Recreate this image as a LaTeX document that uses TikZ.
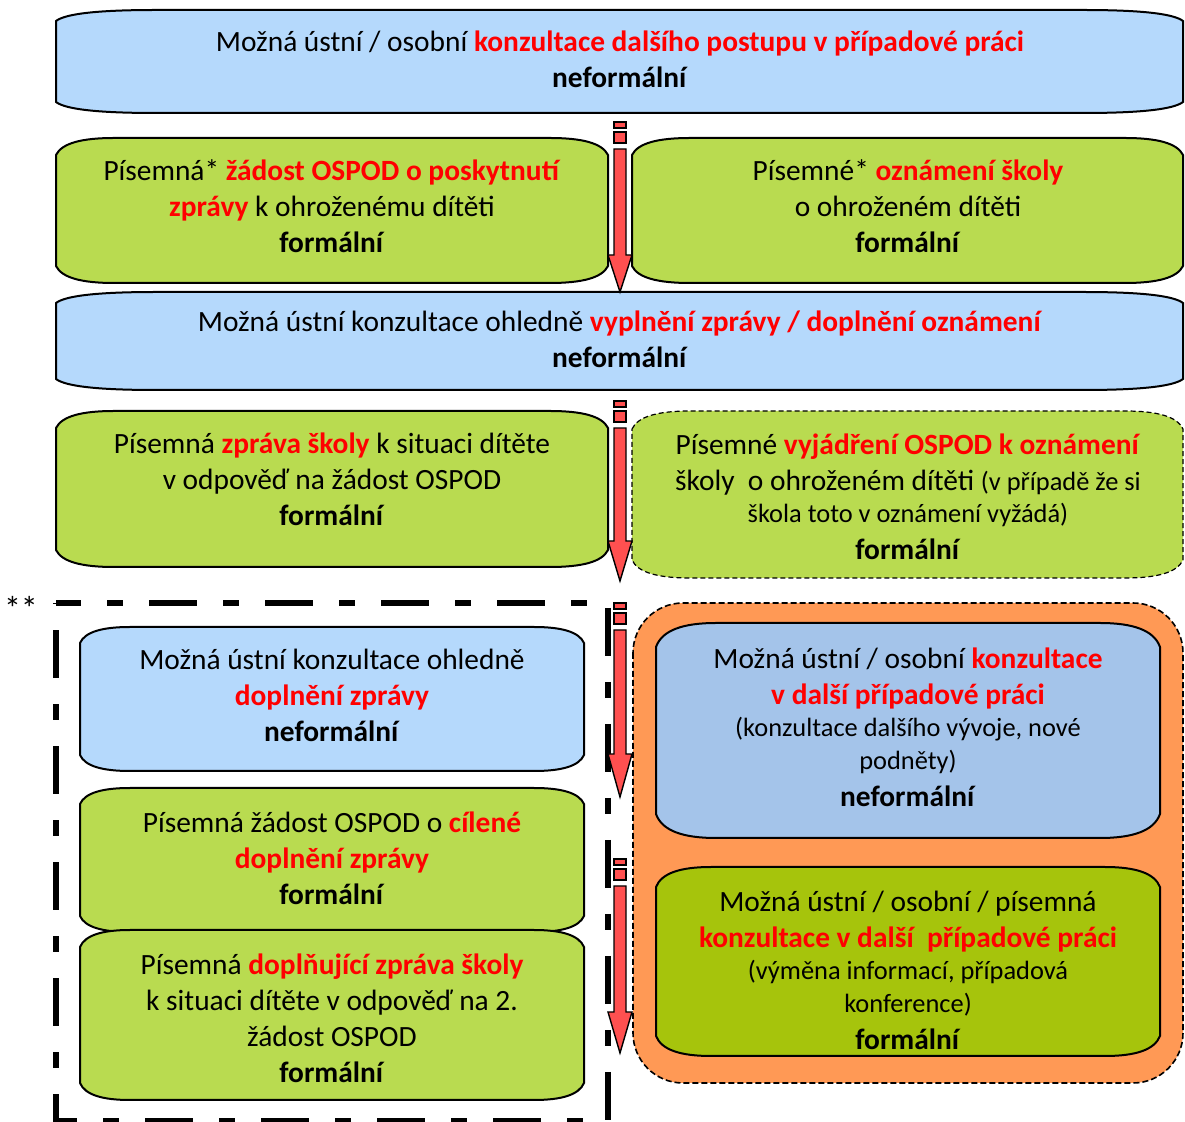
\documentclass[tikz,border=0pt]{standalone}
\usepackage{fontspec}
\setmainfont{Carlito}
\definecolor{bluebox}{RGB}{181,217,252}
\definecolor{greenbox}{RGB}{185,219,80}
\definecolor{bluedark}{RGB}{164,196,234}
\definecolor{greendark}{RGB}{166,196,12}
\definecolor{orangebg}{RGB}{255,153,85}
\definecolor{redtext}{RGB}{255,0,0}
\definecolor{arrowred}{RGB}{255,80,80}
\newcommand\rb[1]{\textcolor{redtext}{\textbf{#1}}}
\newcommand\pbox[7]{%
\draw[#1] (#2,{#3+#7}) .. controls ({#2+0.1*#6},{#3+0.3*#7}) and ({#2+0.45*#6},#3) .. ({#2+#6},#3)
 -- ({#4-#6},#3) .. controls ({#4-0.45*#6},#3) and ({#4-0.1*#6},{#3+0.3*#7}) .. (#4,{#3+#7})
 -- (#4,{#5-#7}) .. controls ({#4-0.1*#6},{#5-0.3*#7}) and ({#4-0.45*#6},#5) .. ({#4-#6},#5)
 -- ({#2+#6},#5) .. controls ({#2+0.45*#6},#5) and ({#2+0.1*#6},{#5-0.3*#7}) .. (#2,{#5-#7}) -- cycle;}
\newcommand\rarrow[3]{%
\draw[arr] (614,#1) rectangle (626,{#1+6});
\draw[arr] (614,{#1+10}) rectangle (626,{#1+21});
\draw[arr] (614,{#1+27}) -- (626,{#1+27}) -- (626,#2) -- (632,#2) -- (620,#3) -- (608,#2) -- (614,#2) -- cycle;}
\newcommand\tline[4]{\node[txt,anchor=base] (#1) at (#2,#3) {#4};}
\newcommand\sline[4]{\node[stxt,anchor=base] (#1) at (#2,#3) {#4};}
\begin{document}
\begin{tikzpicture}[x=0.5pt,y=-0.5pt,
  boxline/.style={draw=black,line width=1pt},
  arr/.style={draw=black,line width=0.7pt,fill=arrowred},
  txt/.style={inner sep=0pt,font=\fontsize{14.7}{17}\selectfont},
  stxt/.style={inner sep=0pt,font=\fontsize{13.2}{15}\selectfont}]
\useasboundingbox (0,0) rectangle (1185,1122);
% row 1
\pbox{boxline,fill=bluebox}{56}{10}{1183}{113}{100}{11}
\tline{t1a}{620}{52}{Možná ústní / osobní \rb{konzultace dalšího postupu v případové práci}}
\tline{t1b}{620}{88}{\textbf{neformální}}
% row 2
\pbox{boxline,fill=greenbox}{56}{138}{608}{283}{58}{17}
\tline{t2a}{332}{181}{Písemná* \rb{žádost OSPOD o poskytnutí}}
\tline{t2b}{332}{217}{\rb{zprávy} k ohroženému dítěti}
\tline{t2c}{332}{253}{\textbf{formální}}
\pbox{boxline,fill=greenbox}{632}{138}{1183}{283}{58}{17}
\tline{t3a}{908}{181}{Písemné* \rb{oznámení školy}}
\tline{t3b}{908}{217}{o ohroženém dítěti}
\tline{t3c}{908}{253}{\textbf{formální}}
% row 3
\pbox{boxline,fill=bluebox}{56}{292}{1183}{390}{100}{11}
\tline{t4a}{620}{332}{Možná ústní konzultace ohledně \rb{vyplnění zprávy / doplnění oznámení}}
\tline{t4b}{620}{368}{\textbf{neformální}}
% row 4
\pbox{boxline,fill=greenbox}{56}{411}{608}{567}{58}{17}
\tline{t5a}{332}{454}{Písemná \rb{zpráva školy} k situaci dítěte}
\tline{t5b}{332}{490}{v odpověď na žádost OSPOD}
\tline{t5c}{332}{526}{\textbf{formální}}
\pbox{boxline,dashed,dash pattern=on 2.5pt off 1.5pt,line width=0.6pt,fill=greenbox}{632}{411}{1183}{578}{58}{18}
\tline{t6a}{908}{455}{Písemné \rb{vyjádření OSPOD k oznámení}}
\tline{t6b}{908}{491}{školy\ \ o ohroženém dítěti {\fontsize{13.2}{15}\selectfont(v případě že si}}
\sline{t6c}{908}{523}{škola toto v oznámení vyžádá)}
\tline{t6d}{908}{560}{\textbf{formální}}
% dashed frame
\draw[line width=3pt,dash pattern=on 24pt off 13pt on 8pt off 13pt,dash phase=11.5pt]
  (56,603) -- (608,603) -- (608,1121) -- (56,1121) -- cycle;
\node[txt,anchor=base,font=\fontsize{17}{19}\selectfont] (stars) at (21,621) {**};
\pbox{boxline,fill=bluebox}{80}{627}{584}{771}{50}{16}
\tline{t7a}{332}{670}{Možná ústní konzultace ohledně}
\tline{t7b}{332}{706}{\rb{doplnění zprávy}}
\tline{t7c}{332}{742}{\textbf{neformální}}
\pbox{boxline,fill=greenbox}{80}{788}{584}{932}{50}{16}
\tline{t8a}{332}{833}{Písemná žádost OSPOD o \rb{cílené}}
\tline{t8b}{332}{869}{\rb{doplnění zprávy}}
\tline{t8c}{332}{905}{\textbf{formální}}
\pbox{boxline,fill=greenbox}{80}{930}{584}{1100}{50}{17}
\tline{t9a}{332}{975}{Písemná \rb{doplňující zpráva školy}}
\tline{t9b}{332}{1011}{k situaci dítěte v odpověď na 2.}
\tline{t9c}{332}{1047}{žádost OSPOD}
\tline{t9d}{332}{1083}{\textbf{formální}}
% orange area
\draw[fill=orangebg,draw=black,line width=0.8pt,dash pattern=on 3pt off 1.5pt,rounded corners=25pt]
  (633,603) rectangle (1183,1083);
\pbox{boxline,fill=bluedark}{656}{623}{1160}{838}{60}{24}
\tline{t10a}{908}{669}{Možná ústní / osobní \rb{konzultace}}
\tline{t10b}{908}{705}{\rb{v další případové práci}}
\sline{t10c}{908}{737}{(konzultace dalšího vývoje, nové}
\sline{t10d}{908}{770}{podněty)}
\tline{t10e}{908}{807}{\textbf{neformální}}
\pbox{boxline,fill=greendark}{656}{867}{1160}{1056}{55}{20}
\tline{t11a}{908}{912}{Možná ústní / osobní / písemná}
\tline{t11b}{908}{948}{\rb{konzultace v další\ \ případové práci}}
\sline{t11c}{908}{980}{(výměna informací, případová}
\sline{t11d}{908}{1013}{konference)}
\tline{t11e}{908}{1050}{\textbf{formální}}
% arrows
\rarrow{122}{255}{292}
\rarrow{401}{541}{581}
\rarrow{603}{754}{797}
\rarrow{859}{1012}{1053}
\end{tikzpicture}
\end{document}
